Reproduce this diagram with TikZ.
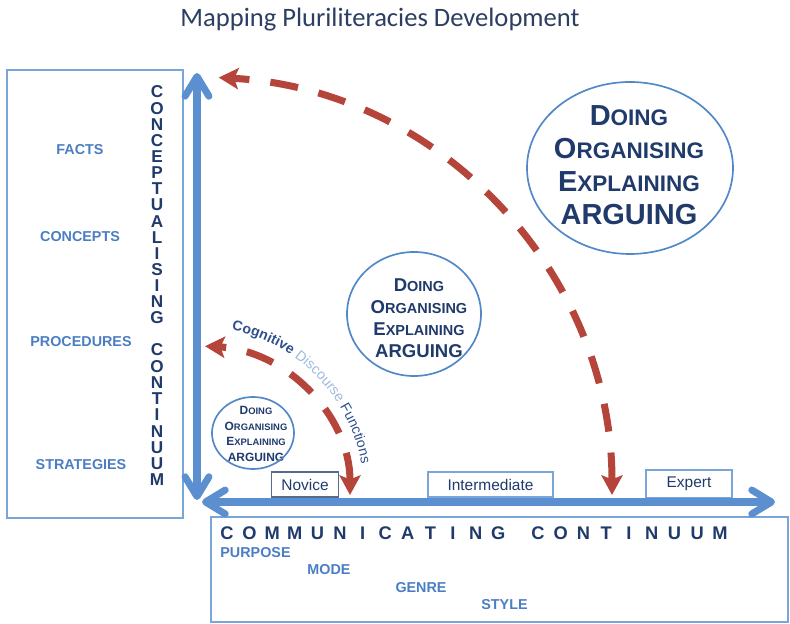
\documentclass[tikz,border=0pt]{standalone}
\usepackage{fontspec}
\setmainfont{Liberation Sans}
\newfontfamily\titlefont{Carlito}
\usetikzlibrary{arrows.meta,decorations.text}
\definecolor{axisblue}{HTML}{5B8FD0}
\definecolor{boxblue}{HTML}{7AA5D8}
\definecolor{labelblue}{HTML}{4B7DC3}
\definecolor{navy}{HTML}{1F3A6B}
\definecolor{circblue}{HTML}{5288C8}
\definecolor{arcred}{HTML}{B5443A}
\definecolor{titlenavy}{HTML}{2C3E62}
\definecolor{cdflight}{HTML}{9DB8DE}
\definecolor{cdfdark}{HTML}{2E4F8F}
\newcommand{\setcaps}[3]{\fontsize{#1pt}{#3pt}\selectfont\def\capsmall{\fontsize{#2pt}{#3pt}\selectfont}}
\newcommand{\scw}[2]{#1{\capsmall #2}}
\newcommand{\dolines}{\scw{D}{OING}\\ \scw{O}{RGANISING}\\ \scw{E}{XPLAINING}\\ ARGUING}
\tikzset{
	axis/.style={line width=5pt, axisblue, >={Straight Barb[length=14pt,width=17pt,line cap=round,line join=round]}, <->},
	reddash/.style={line width=5pt, arcred, dash pattern=on 20pt off 15pt, >={Stealth[length=14pt,width=15pt,inset=3pt]}, <->},
	panel/.style={boxblue, line width=0.9pt},
	circ/.style={circblue, line width=1.2pt},
	dotext/.style={align=center, text=navy, inner sep=0pt},
	sidelabel/.style={font=\fontsize{10.2pt}{12pt}\selectfont\bfseries, text=labelblue},
	vletter/.style={font=\fontsize{12.2pt}{14pt}\selectfont\bfseries, text=navy, inner sep=0pt},
	hletter/.style={font=\fontsize{13pt}{15pt}\selectfont\bfseries, text=navy, inner sep=0pt},
	stage/.style={draw=boxblue, line width=0.9pt, font=\fontsize{11pt}{13pt}\selectfont, text=navy, minimum height=0.625cm, inner sep=0pt}
}
\begin{document}
\begin{tikzpicture}[x=0.025cm,y=0.025cm]
	\useasboundingbox (0,0) rectangle (790,624);
	\node[font=\titlefont\fontsize{18.9pt}{22pt}\selectfont, text=titlenavy] (title) at (380,604) {Mapping Pluriliteracies Development};

	\draw[panel] (7,554) rectangle (183,106);
	\draw[panel] (211,107) rectangle (788,2);

	\node[sidelabel] (facts) at (80,474) {FACTS};
	\node[sidelabel] (concepts) at (80,387) {CONCEPTS};
	\node[sidelabel] (procedures) at (81,282) {PROCEDURES};
	\node[sidelabel] (strategies) at (81,159) {STRATEGIES};
	\node[sidelabel] (purpose) at (255.5,71) {PURPOSE};
	\node[sidelabel] (mode) at (329,54) {MODE};
	\node[sidelabel] (genre) at (421,36) {GENRE};
	\node[sidelabel] (style) at (504.5,19) {STYLE};

	\foreach \ch [count=\i from 0] in {C,O,N,C,E,P,T,U,A,L,I,S,I,N,G}
		\node[vletter] (cp\i) at (157,{532-16.14*\i}) {\ch};
	\foreach \ch [count=\i from 0] in {C,O,N,T,I,N,U,U,M}
		\node[vletter] (cq\i) at (157,{274-16.25*\i}) {\ch};
	\foreach \ch [count=\i from 0] in {C,O,M,M,U,N,I,C,A,T,I,N,G}
		\node[hletter] (ca\i) at ({227+22.6*\i},91) {\ch};
	\foreach \ch [count=\i from 0] in {C,O,N,T,I,N,U,U,M}
		\node[hletter] (cb\i) at ({538+22.75*\i},91) {\ch};

	\node[stage, draw=navy!75, minimum width=1.675cm] (novice) at (305,139.5) {Novice};
	\node[stage, minimum width=3.125cm] (intermediate) at (490.5,139.5) {Intermediate};
	\node[stage, minimum width=2.15cm, minimum height=0.7cm] (expert) at (689,140) {Expert};

	\coordinate (vbot) at (197,124);
	\coordinate (vtop) at (197,551);
	\coordinate (hleft) at (202,122);
	\coordinate (hright) at (775,122);
	\draw[axis] (vbot) -- (vtop);
	\draw[axis] (hleft) -- (hright);

	\node[dotext, font=\bfseries\setcaps{20.6}{16}{23.4}] (bigdo) at (629,459) {\dolines};
	\draw[circ] (630,456) ellipse [x radius=103, y radius=86];
	\node[dotext, font=\bfseries\setcaps{13.2}{10.3}{15.6}] (middo) at (419,306) {\dolines};
	\draw[circ] (414,310) ellipse [x radius=67, y radius=62];
	\node[dotext, font=\bfseries\setcaps{8.5}{6.7}{11.3}] (smalldo) at (256,190) {\dolines};
	\draw[circ] (253,191) ellipse [x radius=41, y radius=36];

	\coordinate (bigend) at (612,129);
	\coordinate (smallend) at (350,129);
	\draw[reddash] (bigend) arc[start angle=0, end angle=87, x radius=415, y radius=418];
	\draw[reddash] (smallend) arc[start angle=0, end angle=87, x radius=153, y radius=149];

	\coordinate (cdfstart) at (231.7,294.3);
	\path[decorate, decoration={text along path, text align=fit to path,
		text={|\fontsize{10pt}{12pt}\selectfont\bfseries\color{cdfdark}|Cognitive |\color{cdflight}|Discourse |\color{cdfdark}|Functions}}]
		(cdfstart) arc[start angle=78, end angle=10, radius=167];
\end{tikzpicture}
\end{document}
